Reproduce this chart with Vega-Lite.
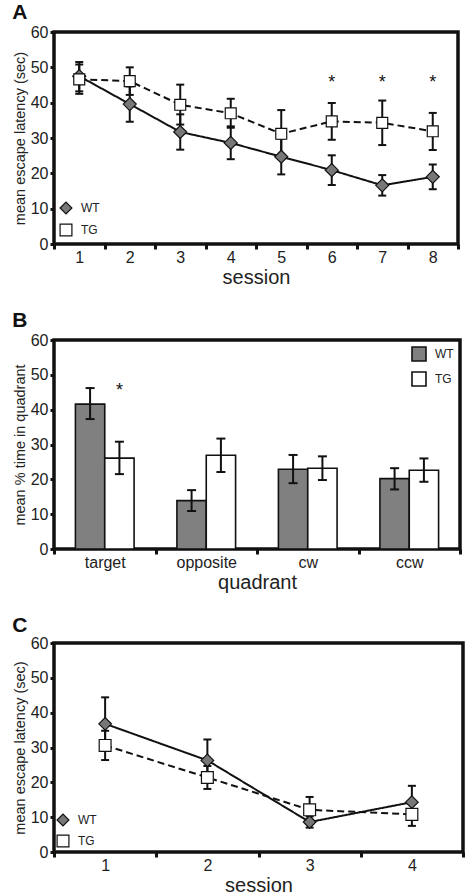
{
  "$schema": "https://vega.github.io/schema/vega-lite/v6.json",
  "background": "white",
  "padding": {"left": 10, "top": 0, "right": 2, "bottom": 0},
  "spacing": 19,
  "config": {
    "font": "Liberation Sans",
    "view": {"stroke": "#111", "strokeWidth": 3.5},
    "axis": {"domain": false, "grid": false, "tickColor": "#111", "tickWidth": 3, "labelFontSize": 16, "labelColor": "#222", "titleFontWeight": "normal", "titleColor": "#222", "labelFont": "Liberation Sans", "titleFont": "Liberation Sans"},
    "axisY": {"tickSize": 4, "titleFontSize": 14.5, "labelPadding": 2, "titlePadding": 3, "values": [0, 10, 20, 30, 40, 50, 60]},
    "axisX": {"tickSize": 5, "labelAngle": 0, "titleFontSize": 20, "labelPadding": 0, "titlePadding": 2, "tickBand": "extent"},
    "title": {"anchor": "start", "frame": "bounds", "fontSize": 21, "fontWeight": "bold", "offset": 1, "color": "#111"},
    "legend": {"title": null, "labelFontSize": 12, "labelColor": "#222", "symbolStrokeColor": "#111", "symbolStrokeWidth": 1.2, "padding": 0, "labelOffset": 8}
  },
  "datasets": {
    "A": [
      {"session": 1, "group": "WT", "mean": 47.5, "lo": 43.2, "hi": 51.5},
      {"session": 2, "group": "WT", "mean": 39.6, "lo": 34.6, "hi": 44.6},
      {"session": 3, "group": "WT", "mean": 31.7, "lo": 26.7, "hi": 36.7},
      {"session": 4, "group": "WT", "mean": 28.6, "lo": 24.0, "hi": 33.3},
      {"session": 5, "group": "WT", "mean": 24.7, "lo": 19.7, "hi": 29.8},
      {"session": 6, "group": "WT", "mean": 20.9, "lo": 16.7, "hi": 25.1},
      {"session": 7, "group": "WT", "mean": 16.6, "lo": 13.7, "hi": 19.5},
      {"session": 8, "group": "WT", "mean": 19.0, "lo": 15.5, "hi": 22.5},
      {"session": 1, "group": "TG", "mean": 46.6, "lo": 42.5, "hi": 50.8},
      {"session": 2, "group": "TG", "mean": 46.1, "lo": 42.2, "hi": 50.0},
      {"session": 3, "group": "TG", "mean": 39.4, "lo": 33.8, "hi": 45.1},
      {"session": 4, "group": "TG", "mean": 37.0, "lo": 32.9, "hi": 41.1},
      {"session": 5, "group": "TG", "mean": 31.2, "lo": 24.5, "hi": 37.9},
      {"session": 6, "group": "TG", "mean": 34.7, "lo": 29.5, "hi": 39.9},
      {"session": 7, "group": "TG", "mean": 34.3, "lo": 28.0, "hi": 40.6},
      {"session": 8, "group": "TG", "mean": 31.9, "lo": 26.6, "hi": 37.1}
    ],
    "Astars": [
      {"session": 6, "star": 45.5},
      {"session": 7, "star": 45.5},
      {"session": 8, "star": 45.5}
    ],
    "B": [
      {"quadrant": "target", "group": "WT", "mean": 41.6, "lo": 37.3, "hi": 46.2},
      {"quadrant": "target", "group": "TG", "mean": 26.1, "lo": 21.5, "hi": 30.8},
      {"quadrant": "opposite", "group": "WT", "mean": 13.9, "lo": 10.9, "hi": 16.9},
      {"quadrant": "opposite", "group": "TG", "mean": 26.9, "lo": 22.1, "hi": 31.7},
      {"quadrant": "cw", "group": "WT", "mean": 22.9, "lo": 18.9, "hi": 27.0},
      {"quadrant": "cw", "group": "TG", "mean": 23.2, "lo": 19.8, "hi": 26.6},
      {"quadrant": "ccw", "group": "WT", "mean": 20.2, "lo": 17.1, "hi": 23.2},
      {"quadrant": "ccw", "group": "TG", "mean": 22.6, "lo": 19.3, "hi": 26.0}
    ],
    "Bstars": [
      {"quadrant": "target", "group": "TG", "star": 45.4}
    ],
    "C": [
      {"session": 1, "group": "WT", "mean": 36.8, "lo": 29.2, "hi": 44.4},
      {"session": 2, "group": "WT", "mean": 26.3, "lo": 20.3, "hi": 32.3},
      {"session": 3, "group": "WT", "mean": 8.6, "lo": 7.0, "hi": 10.2},
      {"session": 4, "group": "WT", "mean": 14.3, "lo": 9.5, "hi": 19.0},
      {"session": 1, "group": "TG", "mean": 30.6, "lo": 26.4, "hi": 34.8},
      {"session": 2, "group": "TG", "mean": 21.4, "lo": 18.1, "hi": 24.7},
      {"session": 3, "group": "TG", "mean": 12.1, "lo": 8.5, "hi": 15.8},
      {"session": 4, "group": "TG", "mean": 10.8, "lo": 7.5, "hi": 14.1}
    ]
  },
  "vconcat": [
    {
      "title": {"text": "A"},
      "width": 404,
      "height": 212,
      "encoding": {
        "x": {"field": "session", "type": "ordinal", "scale": {"type": "band", "paddingInner": 0, "paddingOuter": 0}, "axis": {"title": "session"}}
      },
      "layer": [
        {
          "data": {"name": "A"},
          "mark": {"type": "rule", "strokeWidth": 2, "color": "#111"},
          "encoding": {
            "y": {"field": "lo", "type": "quantitative", "scale": {"domain": [0, 60], "nice": false}, "axis": {"title": "mean escape latency (sec)"}},
            "y2": {"field": "hi"}
          }
        },
        {
          "data": {"name": "A"},
          "mark": {"type": "tick", "thickness": 2, "size": 8, "color": "#111", "opacity": 1},
          "encoding": {"y": {"field": "lo", "type": "quantitative"}}
        },
        {
          "data": {"name": "A"},
          "mark": {"type": "tick", "thickness": 2, "size": 8, "color": "#111", "opacity": 1},
          "encoding": {"y": {"field": "hi", "type": "quantitative"}}
        },
        {
          "data": {"name": "A"},
          "mark": {"type": "line", "color": "#111", "strokeWidth": 2},
          "encoding": {
            "y": {"field": "mean", "type": "quantitative"},
            "detail": {"field": "group"},
            "strokeDash": {"field": "group", "type": "nominal", "scale": {"range": [[7, 4], [1, 0]]}, "legend": null}
          }
        },
        {
          "data": {"name": "A"},
          "mark": {"type": "point", "filled": true, "strokeWidth": 1.2, "opacity": 1},
          "encoding": {
            "y": {"field": "mean", "type": "quantitative"},
            "shape": {"field": "group", "type": "nominal", "scale": {"domain": ["WT", "TG"], "range": ["diamond", "square"]}, "legend": {"orient": "bottom-left", "offset": 5, "rowPadding": 4, "symbolSize": 140, "symbolStrokeWidth": 1.2, "encode": {"symbols": {"strokeWidth": {"value": 1.2}}}}},
            "fill": {"field": "group", "type": "nominal", "scale": {"domain": ["WT", "TG"], "range": ["#777777", "#ffffff"]}, "legend": {"orient": "bottom-left", "offset": 5, "rowPadding": 4, "symbolSize": 140, "symbolStrokeWidth": 1.2, "encode": {"symbols": {"strokeWidth": {"value": 1.2}}}}},
            "stroke": {"field": "group", "type": "nominal", "scale": {"domain": ["WT", "TG"], "range": ["#111111", "#111111"]}, "legend": {"orient": "bottom-left", "offset": 5, "rowPadding": 4, "symbolSize": 140, "symbolStrokeWidth": 1.2, "encode": {"symbols": {"strokeWidth": {"value": 1.2}}}}},
            "size": {"field": "group", "type": "nominal", "scale": {"range": [120, 170]}, "legend": null}
          }
        },
        {
          "data": {"name": "Astars"},
          "mark": {"type": "text", "fontSize": 18, "color": "#111", "baseline": "middle"},
          "encoding": {
            "y": {"field": "star", "type": "quantitative"},
            "text": {"value": "*"}
          }
        }
      ]
    },
    {
      "title": {"text": "B"},
      "width": 406,
      "height": 209,
      "data": {"name": "B"},
      "encoding": {
        "x": {"field": "quadrant", "type": "nominal", "sort": ["target", "opposite", "cw", "ccw"], "scale": {"type": "band", "paddingInner": 0, "paddingOuter": 0}, "axis": {"title": "quadrant"}},
        "xOffset": {"field": "group", "type": "nominal", "sort": ["WT", "TG"], "scale": {"paddingInner": 0, "paddingOuter": 0.73}}
      },
      "layer": [
        {
          "mark": {"type": "bar", "stroke": "#111", "strokeWidth": 1.6},
          "encoding": {
            "y": {"field": "mean", "type": "quantitative", "scale": {"domain": [0, 60], "nice": false}, "axis": {"title": "mean % time in quadrant"}},
            "fill": {"field": "group", "type": "nominal", "scale": {"domain": ["WT", "TG"], "range": ["#808080", "#ffffff"]}, "legend": {"orient": "top-right", "offset": 6, "rowPadding": 3, "symbolSize": 196, "symbolType": "square", "symbolStrokeColor": "#111", "symbolStrokeWidth": 1.6}}
          }
        },
        {
          "mark": {"type": "rule", "strokeWidth": 2, "color": "#111"},
          "encoding": {"y": {"field": "lo", "type": "quantitative"}, "y2": {"field": "hi"}}
        },
        {
          "mark": {"type": "tick", "thickness": 2, "size": 9, "color": "#111", "opacity": 1},
          "encoding": {"y": {"field": "lo", "type": "quantitative"}}
        },
        {
          "mark": {"type": "tick", "thickness": 2, "size": 9, "color": "#111", "opacity": 1},
          "encoding": {"y": {"field": "hi", "type": "quantitative"}}
        },
        {
          "data": {"name": "Bstars"},
          "mark": {"type": "text", "fontSize": 18, "color": "#111", "baseline": "middle"},
          "encoding": {
            "y": {"field": "star", "type": "quantitative"},
            "text": {"value": "*"}
          }
        }
      ]
    },
    {
      "title": {"text": "C", "offset": -1},
      "width": 409,
      "height": 209,
      "data": {"name": "C"},
      "encoding": {
        "x": {"field": "session", "type": "ordinal", "scale": {"type": "band", "paddingInner": 0, "paddingOuter": 0}, "axis": {"title": "session"}}
      },
      "layer": [
        {
          "mark": {"type": "rule", "strokeWidth": 2, "color": "#111"},
          "encoding": {
            "y": {"field": "lo", "type": "quantitative", "scale": {"domain": [0, 60], "nice": false}, "axis": {"title": "mean escape latency (sec)"}},
            "y2": {"field": "hi"}
          }
        },
        {
          "mark": {"type": "tick", "thickness": 2, "size": 8, "color": "#111", "opacity": 1},
          "encoding": {"y": {"field": "lo", "type": "quantitative"}}
        },
        {
          "mark": {"type": "tick", "thickness": 2, "size": 8, "color": "#111", "opacity": 1},
          "encoding": {"y": {"field": "hi", "type": "quantitative"}}
        },
        {
          "mark": {"type": "line", "color": "#111", "strokeWidth": 2},
          "encoding": {
            "y": {"field": "mean", "type": "quantitative"},
            "detail": {"field": "group"},
            "strokeDash": {"field": "group", "type": "nominal", "scale": {"range": [[7, 4], [1, 0]]}, "legend": null}
          }
        },
        {
          "mark": {"type": "point", "filled": true, "strokeWidth": 1.2, "opacity": 1},
          "encoding": {
            "y": {"field": "mean", "type": "quantitative"},
            "shape": {"field": "group", "type": "nominal", "scale": {"domain": ["WT", "TG"], "range": ["diamond", "square"]}, "legend": {"orient": "bottom-left", "offset": 2, "rowPadding": 3, "symbolSize": 140, "symbolStrokeWidth": 1.2, "encode": {"symbols": {"strokeWidth": {"value": 1.2}}}}},
            "fill": {"field": "group", "type": "nominal", "scale": {"domain": ["WT", "TG"], "range": ["#777777", "#ffffff"]}, "legend": {"orient": "bottom-left", "offset": 2, "rowPadding": 3, "symbolSize": 140, "symbolStrokeWidth": 1.2, "encode": {"symbols": {"strokeWidth": {"value": 1.2}}}}},
            "stroke": {"field": "group", "type": "nominal", "scale": {"domain": ["WT", "TG"], "range": ["#111111", "#111111"]}, "legend": {"orient": "bottom-left", "offset": 2, "rowPadding": 3, "symbolSize": 140, "symbolStrokeWidth": 1.2, "encode": {"symbols": {"strokeWidth": {"value": 1.2}}}}},
            "size": {"field": "group", "type": "nominal", "scale": {"range": [140, 160]}, "legend": null}
          }
        }
      ]
    }
  ],
  "resolve": {"scale": {"x": "independent", "y": "independent", "shape": "independent", "fill": "independent", "stroke": "independent", "size": "independent", "strokeDash": "independent"}}
}
